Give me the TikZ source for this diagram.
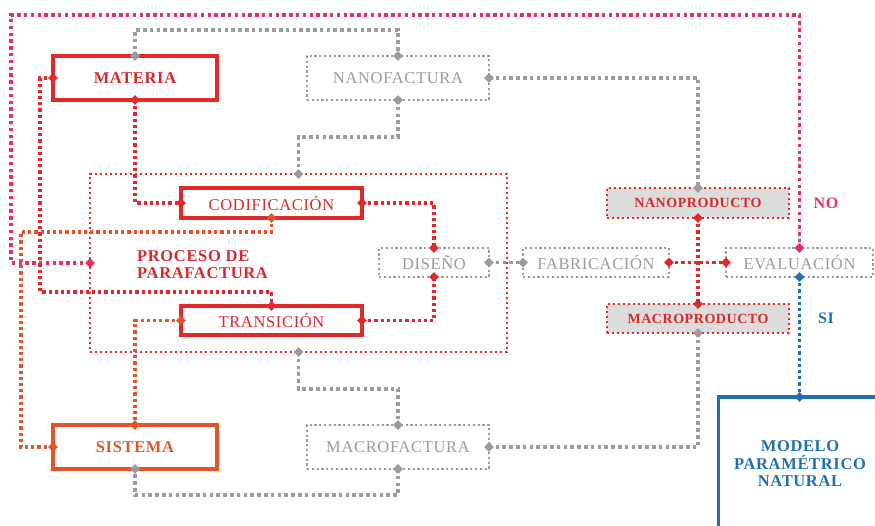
\documentclass[tikz,border=0pt]{standalone}
\usepackage{fontspec}
\setmainfont{Liberation Serif}[LetterSpace=4]
\usetikzlibrary{calc}
\definecolor{cred}{HTML}{E0292B}
\definecolor{ctxt}{HTML}{D8282B}
\definecolor{corg}{HTML}{E0552B}
\definecolor{cpink}{HTML}{E8305F}
\definecolor{cgray}{HTML}{9B9B9B}
\definecolor{cgtxt}{HTML}{9A9A9A}
\definecolor{cblue}{HTML}{1E70B0}
\definecolor{cfill}{HTML}{DCDCDC}
\newcommand{\dmd}[2]{\fill[#1] (#2) ++(-4.8,0) -- ++(4.8,-4.8) -- ++(4.8,4.8) -- ++(-4.8,4.8) -- cycle;}
\begin{document}
\begin{tikzpicture}[x=1pt,y=-1pt,
  lbl/.style={font=\fontsize{16.5}{17.5}\selectfont},
  sml/.style={font=\fontsize{14}{15}\selectfont\bfseries},
  solidbox/.style={draw=#1, line width=3.3pt, outer sep=0pt, inner sep=0pt},
  graybox/.style={draw=cgray, line width=2.4pt, dash pattern=on 2.2pt off 2.6pt, outer sep=0pt, inner sep=0pt, text=cgtxt, lbl},
  redbox/.style={draw=cred, line width=2.6pt, dash pattern=on 2.4pt off 2.6pt, fill=cfill, outer sep=0pt, inner sep=0pt, text=ctxt, sml},
  procbox/.style={draw=cred, line width=2.6pt, dash pattern=on 2.4pt off 2.6pt, outer sep=0pt, inner sep=0pt},
  gline/.style={draw=cgray, line width=3.5pt, dash pattern=on 3.6pt off 3.2pt},
  rline/.style={draw=cred, line width=3.5pt, dash pattern=on 3.2pt off 3pt},
  oline/.style={draw=corg, line width=3.5pt, dash pattern=on 3.2pt off 3pt},
  pline/.style={draw=cpink, line width=3.5pt, dash pattern=on 3.4pt off 3.4pt},
  bline/.style={draw=cblue, line width=3.5pt, dash pattern=on 3.2pt off 3pt},
]
\useasboundingbox (0,0) rectangle (875,525);
\clip (0,0) rectangle (875,525);

% boxes
\node[procbox, minimum width=417pt, minimum height=178pt] (proc) at (298.5,263) {};
\node[solidbox=cred, minimum width=164pt, minimum height=44pt, text=ctxt, font=\fontsize{16.5}{17.5}\selectfont\bfseries] (mat) at (135,78) {MATERIA};
\node[solidbox=corg, minimum width=164pt, minimum height=44pt, text=corg, font=\fontsize{16.5}{17.5}\selectfont\bfseries] (sis) at (135,447) {SISTEMA};
\node[graybox, minimum width=182pt, minimum height=44pt] (nano) at (398,78) {NANOFACTURA};
\node[graybox, minimum width=182pt, minimum height=44pt] (macro) at (398,447) {MACROFACTURA};
\node[solidbox=cred, minimum width=181pt, minimum height=30pt, text=ctxt, lbl] (cod) at (271.5,203) {CODIFICACIÓN};
\node[solidbox=cred, minimum width=181pt, minimum height=29pt, text=ctxt, lbl] (tra) at (271.5,320.5) {TRANSICIÓN};
\node[graybox, minimum width=110pt, minimum height=29pt] (dis) at (434,262.5) {DISEÑO};
\node[graybox, minimum width=146pt, minimum height=29pt] (fab) at (596,262.5) {FABRICACIÓN};
\node[graybox, minimum width=147pt, minimum height=29pt] (eva) at (799.5,262.5) {EVALUACIÓN};
\node[redbox, minimum width=182pt, minimum height=30pt] (np) at (698,203) {NANOPRODUCTO};
\node[redbox, minimum width=182pt, minimum height=29pt] (mp) at (698,318.5) {MACROPRODUCTO};
\node[draw=cblue, line width=3.8pt, outer sep=0pt, anchor=north west, minimum width=220pt, minimum height=200pt] (mod) at (718.5,397) {};

% texts
\node[anchor=west, align=left, text=ctxt, font=\fontsize{16.5}{17.5}\selectfont\bfseries, inner sep=0pt] (ptxt) at (137,264.5) {PROCESO DE\\PARAFACTURA};
\node[align=center, text=cblue, font=\fontsize{16.5}{17.5}\selectfont\bfseries, inner sep=0pt] (mtxt) at (800,464) {MODELO\\PARAMÉTRICO\\NATURAL};
\node[text=cpink, font=\fontsize{16}{17}\selectfont\bfseries, inner sep=0pt] (no) at (826,203) {NO};
\node[text=cblue, font=\fontsize{16}{17}\selectfont\bfseries, inner sep=0pt] (si) at (826,318) {SI};

% corner coordinate for pink loop
\coordinate (pk) at (11,15);

% connectors
\draw[pline] (proc.west) -| (pk) -| (eva.north);
\draw[gline] (mat.north) -- ++(0,-26) -| (nano.north);
\draw[gline] (nano.east) -| (np.north);
\draw[gline] (nano.south) -- ++(0,37) -| (proc.north);
\draw[gline] (proc.south) -- ++(0,37) -| (macro.north);
\draw[gline] (mp.south) |- (macro.east);
\draw[gline] (macro.south) -- ++(0,26) -| (sis.south);
\draw[gline] (dis.east) -- (fab.west);
\draw[rline] (mat.south) |- (cod.west);
\draw[rline] (mat.west) -- ++(-13,0) |- ($(tra.north)+(0,-14)$) -- (tra.north);
\draw[rline] (cod.east) -| (dis.north);
\draw[rline] (tra.east) -| (dis.south);
\draw[rline] (fab.east) -- (eva.west);
\draw[rline] (np.south) -- (mp.north);
\draw[oline] (cod.south) -- ++(0,14) -| ($(sis.west)+(-32,0)$) -- (sis.west);
\draw[oline] (tra.west) -| (sis.north);
\draw[bline] (eva.south) -- (eva.south |- mod.north);

% diamonds
\dmd{cgray}{mat.north}
\dmd{cgray}{nano.north}
\dmd{cgray}{nano.east}
\dmd{cgray}{nano.south}
\dmd{cgray}{proc.north}
\dmd{cgray}{proc.south}
\dmd{cgray}{np.north}
\dmd{cgray}{mp.south}
\dmd{cgray}{macro.north}
\dmd{cgray}{macro.east}
\dmd{cgray}{macro.south}
\dmd{cgray}{sis.south}
\dmd{cgray}{dis.east}
\dmd{cgray}{fab.west}
\dmd{cred}{mat.south}
\dmd{cred}{mat.west}
\dmd{cred}{cod.west}
\dmd{cred}{cod.east}
\dmd{cred}{tra.north}
\dmd{cred}{tra.east}
\dmd{cred}{dis.north}
\dmd{cred}{dis.south}
\dmd{cred}{fab.east}
\dmd{cred}{eva.west}
\dmd{cred}{np.south}
\dmd{cred}{mp.north}
\dmd{corg}{cod.south}
\dmd{corg}{tra.west}
\dmd{corg}{sis.north}
\dmd{corg}{sis.west}
\dmd{cpink}{proc.west}
\dmd{cpink}{eva.north}
\dmd{cblue}{eva.south}
\dmd{cblue}{eva.south |- mod.north}
\end{tikzpicture}
\end{document}
